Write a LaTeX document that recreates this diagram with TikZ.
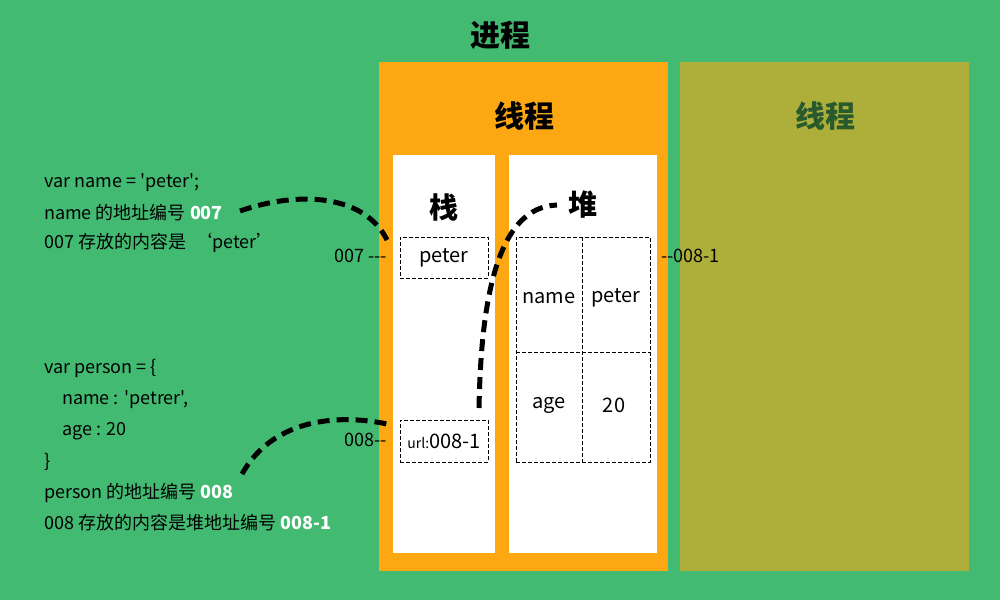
\documentclass[tikz,border=0pt]{standalone}
\usepackage{fontspec}
\setmainfont{Noto Sans CJK SC}
\definecolor{bggreen}{RGB}{67,186,114}
\definecolor{thorange}{RGB}{253,168,19}
\definecolor{tholive}{RGB}{174,174,58}
\definecolor{olivetext}{RGB}{40,90,45}
\font\rawcode="Noto Sans CJK SC" at 18pt
\font\rawside="Noto Sans CJK SC" at 18pt
\newcommand{\hy}{\mbox{-}}
\begin{document}
\begin{tikzpicture}[x=1pt,y=-1pt,
  title/.style={font=\fontsize{30}{32}\selectfont\bfseries},
  code/.style={anchor=west,font=\fontsize{18}{20}\selectfont,inner sep=0pt},
  cell/.style={draw,dash pattern=on 4pt off 2pt,thin,inner sep=0pt},
  grid/.style={dash pattern=on 4pt off 2pt,thin},
  lbl/.style={font=\fontsize{20}{22}\selectfont,inner sep=0pt},
  side/.style={font=\rawside,inner sep=0pt},
  link/.style={line width=5pt,dash pattern=on 12pt off 7pt}]
\useasboundingbox (0,0) rectangle (1000,600);
\fill[bggreen] (0,0) rectangle (1000,600);
\node[title] (proc) at (500,35) {进程};
\fill[thorange] (379,62) rectangle (668,571);
\fill[tholive] (680,62) rectangle (969,571);
\node[title] (th1) at (524,116) {线程};
\node[title,text=olivetext] (th2) at (825,116) {线程};
\fill[white] (393,155) rectangle (495,553);
\fill[white] (509,155) rectangle (657,553);
\node[font=\fontsize{29}{30}\selectfont\bfseries] (stack) at (444,207) {栈};
\node[font=\fontsize{29}{30}\selectfont\bfseries] (heap) at (583,205) {堆};
\node[cell,minimum width=88pt,minimum height=41pt,lbl] (pbox) at (444,257.5) {peter};
\node[cell,minimum width=88pt,minimum height=42pt,lbl] (ubox) at (444,441) {{\fontsize{14}{16}\selectfont url:}008\hy1};
\node[cell,minimum width=134pt,minimum height=225pt] (htab) at (583,349.5) {};
\coordinate (vt) at (582,237);
\coordinate (vb) at (582,462);
\coordinate (hl) at (516,352);
\coordinate (hr) at (650,352);
\draw[grid] (vt) -- (vb);
\draw[grid] (hl) -- (hr);
\node[lbl] (hn) at (549,298) {name};
\node[lbl] (hp) at (616,298) {peter};
\node[lbl] (ha) at (549,405) {age};
\node[lbl] (hv) at (614,405) {20};
\node[side,anchor=east] (l007) at (387,256) {007 ---};
\node[side,anchor=east] (l008) at (387,440) {008--};
\node[side,anchor=west] (l0081) at (661,256) {--008-1};
\node[code,font=\rawcode] (c1) at (44,183) {var name = 'peter';};
\node[code] (c2) at (44,213) {name 的地址编号 \textcolor{white}{\bfseries 007}};
\node[code] (c3) at (44,243) {007 存放的内容是 \ ‘peter’};
\node[code] (c4) at (44,368) {var person = \{};
\node[code,font=\rawcode] (c5) at (62,400) {name : 'petrer',};
\node[code] (c6) at (62,431) {age : 20};
\node[code] (c7) at (44,462) {\}};
\node[code] (c8) at (44,493) {person 的地址编号 \textcolor{white}{\bfseries 008}};
\node[code] (c9) at (44,523) {008 存放的内容是堆地址编号 \textcolor{white}{\bfseries 008\hy1}};
\coordinate (a1) at (240,211);
\coordinate (a2) at (387,240);
\draw[link] (a1) .. controls (300,190) and (365,195) .. (a2);
\coordinate (b1) at (242,474);
\coordinate (b2) at (387,424);
\draw[link] (b1) .. controls (275,415) and (345,415) .. (b2);
\coordinate (d1) at (479,408);
\coordinate (d2) at (557,205);
\draw[link] (d1) .. controls (481,300) and (497,207) .. (d2);
\end{tikzpicture}
\end{document}
